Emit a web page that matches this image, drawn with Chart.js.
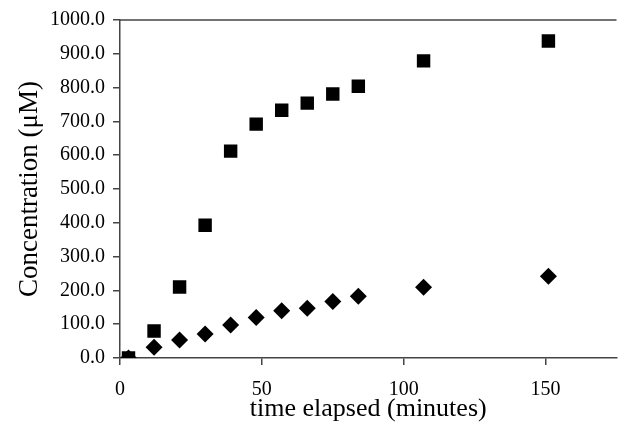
<!DOCTYPE html>
<html>
<head>
<meta charset="utf-8">
<script src="https://cdn.jsdelivr.net/npm/chart.js@4/dist/chart.umd.min.js"></script>
<style>
  html, body { margin:0; padding:0; background:#fff; }
  #wrap { width:626px; height:422px; }
</style>
</head>
<body>
<div id="wrap"><canvas id="c"></canvas></div>
<script>
/* ---------- Data ---------- */
const times      = [3, 12, 21, 30, 39, 48, 57, 66, 75, 84, 107, 151];
const squareVals = [0, 80, 210, 393, 612, 692, 733, 754, 781, 804, 879, 938];
const diamondVals= [0, 32, 53, 71, 98, 120, 140, 147, 167, 183, 209, 242];
const xTicks     = [0, 50, 100, 150];

const toPts = vals => times.map((t, i) => ({ x:t, y:vals[i] }));

/* top frame line like the original plot */
const topLine = {
  id:'topLine',
  afterDraw(chart){
    const { ctx, chartArea:a } = chart;
    ctx.save();
    ctx.strokeStyle = '#444';
    ctx.lineWidth = 1.5;
    ctx.beginPath();
    ctx.moveTo(a.left, a.top);
    ctx.lineTo(a.right, a.top);
    ctx.stroke();
    ctx.restore();
  }
};

const serif = 'Liberation Serif';

new Chart(document.getElementById('c'), {
  type:'scatter',
  data:{
    datasets:[
      { label:'A', data:toPts(squareVals), pointStyle:'rect', pointRadius:9.5,
        backgroundColor:'#000', borderColor:'#000', borderWidth:0 },
      { label:'B', data:toPts(diamondVals), pointStyle:'rectRot', pointRadius:8.5,
        backgroundColor:'#000', borderColor:'#000', borderWidth:0 }
    ]
  },
  options:{
    responsive:true,
    maintainAspectRatio:false,
    animation:false,
    layout:{ padding:{ top:20, right:0, left:0, bottom:0 } },
    plugins:{ legend:{ display:false }, tooltip:{ enabled:false } },
    scales:{
      x:{
        type:'linear', min:0, max:175,
        afterFit: s => { s.height = 64; },
        afterBuildTicks: s => { s.ticks = xTicks.map(v => ({ value:v })); },
        border:{ display:true, color:'#444', width:1.5 },
        grid:{ drawOnChartArea:false, drawTicks:true, tickLength:7, color:'#444', lineWidth:1.5 },
        ticks:{ color:'#000', padding:13, maxRotation:0, font:{ family:serif, size:20 } },
        title:{ display:true, text:'time elapsed (minutes)', color:'#000',
          padding:0, font:{ family:serif, size:26, lineHeight:1 } }
      },
      y:{
        type:'linear', min:0, max:1000,
        afterFit: s => { s.width = 120; },
        border:{ display:true, color:'#444', width:1.5 },
        grid:{ drawOnChartArea:false, drawTicks:true, tickLength:7, color:'#444', lineWidth:1.5 },
        ticks:{ stepSize:100, color:'#000', padding:8, font:{ family:serif, size:20 },
          callback: v => v.toFixed(1) },
        title:{ display:true, text:'Concentration (μM)', color:'#000',
          padding:{ top:16, bottom:0 }, font:{ family:serif, size:27, lineHeight:1 } }
      }
    }
  },
  plugins:[topLine]
});
</script>
</body>
</html>
